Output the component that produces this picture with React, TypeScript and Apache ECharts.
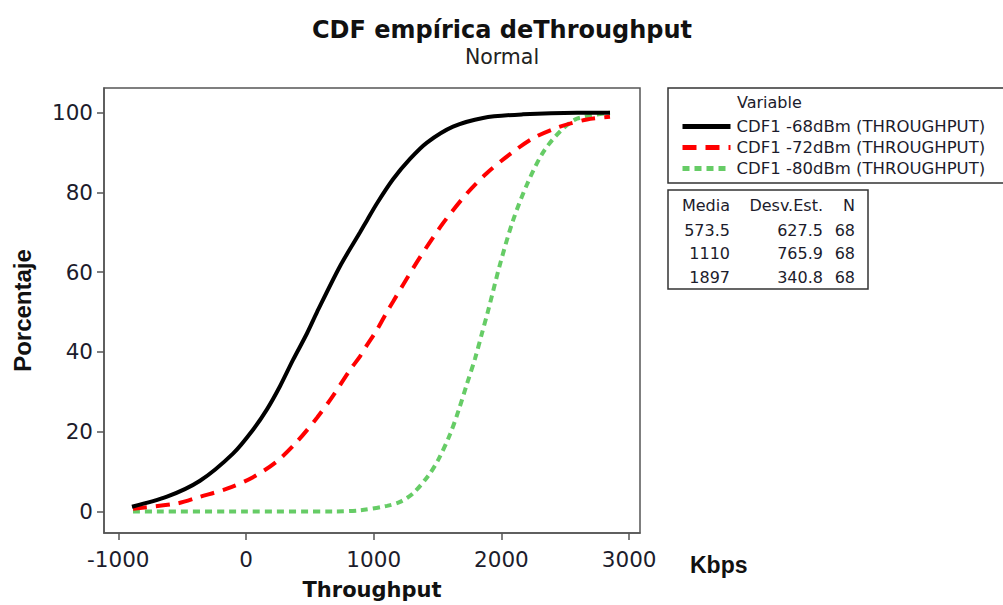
import React, { useEffect, useRef } from "react";
import * as echarts from "echarts";

const xTicks = [-1000, 0, 1000, 2000, 3000];
const yTicks = [0, 20, 40, 60, 80, 100];

const seriesNames = [
  "CDF1 -68dBm (THROUGHPUT)",
  "CDF1 -72dBm (THROUGHPUT)",
  "CDF1 -80dBm (THROUGHPUT)",
];

const cdf68: [number, number][] = [
  [-893, 1.2], [-619, 3.7], [-360, 7.7], [-102, 14.5], [55, 20.5], [164, 25.6],
  [266, 31.4], [368, 38], [478, 44.7], [556, 50], [736, 61.5], [893, 70],
  [947, 73], [1026, 77.3], [1151, 83.3], [1284, 88.4], [1417, 92.5],
  [1621, 96.5], [1856, 98.7], [2169, 99.6], [2592, 100], [2850, 100],
];

const cdf72: [number, number][] = [
  [-885, 0.7], [-540, 2], [-360, 3.7], [-149, 5.7], [55, 8.6], [243, 12.6],
  [399, 17.5], [556, 23.5], [681, 29], [814, 35.5], [893, 38.9], [947, 41.7],
  [1026, 45.6], [1104, 50.1], [1151, 52.6], [1229, 56.8], [1363, 63.8],
  [1543, 72.3], [1731, 79.8], [1887, 84.9], [2067, 89.6], [2247, 93.6],
  [2459, 96.5], [2670, 98.3], [2850, 99],
];

const cdf80: [number, number][] = [
  [-885, 0], [0, 0], [700, 0], [893, 0.3], [1104, 1.4], [1206, 2.4],
  [1310, 4.6], [1428, 9], [1506, 13], [1597, 19.3], [1663, 25.2],
  [1728, 31.8], [1793, 38.3], [1846, 44.5], [1897, 50.5], [1989, 62],
  [2091, 73], [2200, 82], [2325, 90], [2459, 95.3], [2592, 98.5], [2850, 100],
];

const tableHeaders = ["Media", "Desv.Est.", "N"];
const means = ["573.5", "1110", "1897"];
const stdDevs = ["627.5", "765.9", "340.8"];
const counts = ["68", "68", "68"];

const FONT = "'DejaVu Sans', Verdana, sans-serif";
const ARIAL = "'Liberation Sans', Arial, sans-serif";
const TXT = "#1c1c2c";

export default function App() {
  const ref = useRef<HTMLDivElement>(null);

  useEffect(() => {
    if (!ref.current) return;
    const chart = echarts.init(ref.current, null, { renderer: "svg" });

    const tableTexts: any[] = [];
    const colRight = [730, 823, 855];
    tableHeaders.forEach((h, i) => {
      tableTexts.push({
        type: "text",
        x: colRight[i],
        y: 205,
        style: { text: h, font: `16px ${FONT}`, fill: TXT, align: "right", verticalAlign: "middle" },
      });
    });
    const rowsY = [230, 253, 277];
    means.forEach((m, r) => {
      [m, stdDevs[r], counts[r]].forEach((v, i) => {
        tableTexts.push({
          type: "text",
          x: colRight[i],
          y: rowsY[r],
          style: { text: v, font: `16px ${FONT}`, fill: TXT, align: "right", verticalAlign: "middle" },
        });
      });
    });

    const lineCommon = {
      type: "line",
      showSymbol: false,
      symbol: "none",
      smooth: 0.3,
    };

    chart.setOption({
      animation: false,
      backgroundColor: "#ffffff",
      title: {
        text: "CDF empírica deThroughput",
        subtext: "Normal",
        left: 497,
        textAlign: "center",
        top: 13,
        itemGap: 4,
        textStyle: { fontFamily: FONT, fontWeight: "bold", fontSize: 24, color: "#111" },
        subtextStyle: { fontFamily: FONT, fontSize: 20.5, color: "#222" },
      },
      grid: {
        left: 104,
        right: 363,
        top: 88,
        bottom: 65,
        show: true,
        borderColor: "#555",
        borderWidth: 1.5,
        containLabel: false,
      },
      legend: {
        orient: "vertical",
        left: 675,
        top: 113,
        itemWidth: 48,
        itemHeight: 14,
        itemGap: 4,
        data: seriesNames,
        itemStyle: { opacity: 0 },
        lineStyle: { width: 5 },
        textStyle: { fontFamily: FONT, fontSize: 16.5, lineHeight: 17, color: TXT, padding: [0, 0, 0, 1] },
      },
      xAxis: {
        type: "value",
        min: -1112,
        max: 3085,
        name: "Throughput",
        nameLocation: "middle",
        nameGap: 46,
        nameTextStyle: { fontFamily: FONT, fontWeight: "bold", fontSize: 21, color: "#111" },
        axisLine: { onZero: false, lineStyle: { color: "#555", width: 1.5 } },
        axisTick: { show: true, length: 7, customValues: xTicks, lineStyle: { color: "#555", width: 1.5 } },
        axisLabel: {
          customValues: xTicks,
          margin: 15,
          fontFamily: FONT,
          fontSize: 21.5,
          color: TXT,
          formatter: (v: number) => String(v),
        },
        splitLine: { show: false },
      },
      yAxis: {
        type: "value",
        min: -5.4,
        max: 106.2,
        name: "Porcentaje",
        nameLocation: "middle",
        nameGap: 70,
        nameTextStyle: { fontFamily: ARIAL, fontWeight: "bold", fontSize: 24, color: "#111" },
        axisLine: { onZero: false, lineStyle: { color: "#555", width: 1.5 } },
        axisTick: { show: true, length: 7, customValues: yTicks, lineStyle: { color: "#555", width: 1.5 } },
        axisLabel: {
          customValues: yTicks,
          margin: 11,
          fontFamily: FONT,
          fontSize: 21.5,
          color: TXT,
          formatter: (v: number) => String(v),
        },
        splitLine: { show: false },
      },
      series: [
        {
          ...lineCommon,
          name: seriesNames[0],
          data: cdf68,
          lineStyle: { color: "#000000", width: 4, type: "solid" },
          itemStyle: { color: "#000000" },
          z: 3,
        },
        {
          ...lineCommon,
          name: seriesNames[1],
          data: cdf72,
          lineStyle: { color: "#ff0000", width: 4, type: [14, 9] },
          itemStyle: { color: "#ff0000" },
          z: 2,
        },
        {
          ...lineCommon,
          name: seriesNames[2],
          data: cdf80,
          lineStyle: { color: "#66cc66", width: 4, type: [7, 5] },
          itemStyle: { color: "#66cc66" },
          z: 1,
        },
      ],
      graphic: [
        {
          type: "rect",
          shape: { x: 668, y: 88, width: 345, height: 95 },
          style: { fill: "none", stroke: "#333", lineWidth: 1.5 },
          z: -1,
        },
        {
          type: "text",
          x: 737,
          y: 102,
          style: { text: "Variable", font: `16px ${FONT}`, fill: TXT, verticalAlign: "middle" },
        },
        {
          type: "rect",
          shape: { x: 668, y: 190, width: 200, height: 99 },
          style: { fill: "none", stroke: "#333", lineWidth: 1.5 },
        },
        ...tableTexts,
        {
          type: "text",
          x: 690,
          y: 565,
          style: {
            text: "Kbps",
            font: `bold 23px ${ARIAL}`,
            fill: "#111",
            verticalAlign: "middle",
            shadowColor: "rgba(0,0,0,0.35)",
            shadowBlur: 5,
            shadowOffsetY: 3,
          },
        },
      ],
    });

    return () => chart.dispose();
  }, []);

  return (
    <div
      ref={ref}
      style={{ position: "fixed", left: 0, top: 0, width: 1003, height: 605 }}
    />
  );
}
